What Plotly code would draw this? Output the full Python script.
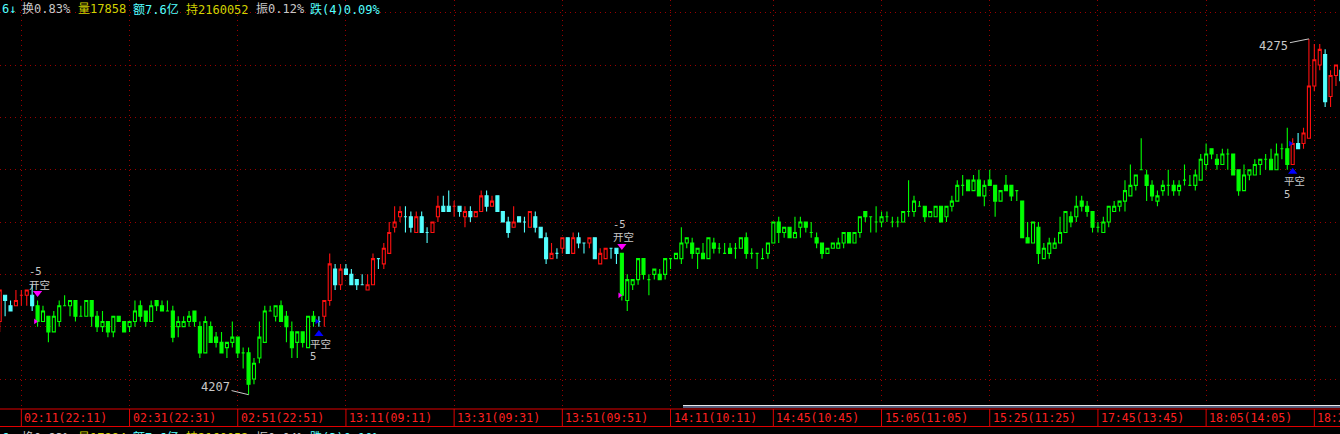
import plotly.graph_objects as go

# ---------------- data ----------------
opens = [4221, 4226, 4224, 4224, 4226, 4226, 4226, 4224, 4221, 4222,
         4219, 4221, 4224, 4224, 4225, 4222, 4222, 4225, 4222, 4220,
         4221, 4219, 4222, 4221, 4220, 4221, 4224, 4223, 4221, 4225,
         4224, 4223, 4223, 4220, 4220, 4221, 4223, 4220, 4215, 4220,
         4218, 4217, 4216, 4217, 4218, 4215, 4215, 4210, 4214, 4217,
         4223, 4222, 4224, 4222, 4219, 4217, 4219, 4216, 4222, 4221,
         4222, 4225, 4231, 4228, 4231, 4230, 4229, 4228, 4227, 4228,
         4233, 4232, 4234, 4239, 4241, 4241, 4241, 4238, 4241, 4238,
         4238, 4241, 4243, 4243, 4243, 4243, 4241, 4242, 4241, 4242,
         4245, 4243, 4245, 4242, 4240, 4239, 4241, 4240, 4239, 4241,
         4239, 4237, 4233, 4234, 4235, 4237, 4234, 4237, 4236, 4236,
         4237, 4232, 4233, 4235, 4235, 4234, 4225, 4228, 4229, 4233,
         4229, 4230, 4230, 4230, 4233, 4233, 4233, 4236, 4236, 4234,
         4234, 4233, 4236, 4235, 4234, 4235, 4235, 4235, 4237, 4234,
         4234, 4233, 4234, 4236, 4240, 4238, 4239, 4237, 4239, 4240,
         4238, 4237, 4236, 4234, 4235, 4235, 4236, 4238, 4236, 4238,
         4242, 4241, 4240, 4240, 4241, 4240, 4240, 4240, 4242, 4242,
         4243, 4243, 4241, 4241, 4243, 4241, 4243, 4244, 4247, 4248,
         4246, 4248, 4245, 4248, 4247, 4244, 4247, 4247, 4246, 4244,
         4237, 4236, 4239, 4233, 4234, 4235, 4236, 4238, 4241, 4241,
         4244, 4243, 4242, 4239, 4238, 4240, 4242, 4243, 4244, 4245,
         4247, 4250, 4249, 4247, 4244, 4246, 4247, 4247, 4246, 4248,
         4247, 4247, 4248, 4251, 4254, 4252, 4251, 4253, 4253, 4250,
         4246, 4249, 4249, 4251, 4252, 4252, 4250, 4254, 4254, 4251,
         4255, 4255, 4256, 4266, 4270, 4272, 4264, 4268, 4269]
highs = [4227, 4226, 4225, 4227, 4227, 4227, 4228, 4225, 4224, 4222,
         4223, 4225, 4226, 4225, 4225, 4224, 4225, 4225, 4223, 4223,
         4221, 4222, 4222, 4221, 4221, 4225, 4225, 4223, 4225, 4225,
         4225, 4225, 4224, 4222, 4222, 4223, 4223, 4221, 4222, 4221,
         4219, 4219, 4217, 4221, 4218, 4216, 4216, 4214, 4221, 4224,
         4224, 4224, 4225, 4223, 4221, 4219, 4219, 4222, 4223, 4222,
         4225, 4234, 4232, 4232, 4232, 4231, 4229, 4230, 4230, 4234,
         4233, 4236, 4240, 4243, 4243, 4243, 4242, 4242, 4242, 4239,
         4240, 4245, 4245, 4246, 4244, 4243, 4243, 4243, 4242, 4246,
         4246, 4245, 4245, 4242, 4241, 4243, 4241, 4241, 4242, 4242,
         4239, 4238, 4236, 4235, 4237, 4237, 4238, 4238, 4236, 4237,
         4237, 4235, 4235, 4235, 4235, 4234, 4230, 4229, 4233, 4233,
         4230, 4231, 4231, 4233, 4233, 4234, 4239, 4237, 4237, 4235,
         4236, 4237, 4237, 4236, 4236, 4236, 4236, 4237, 4238, 4235,
         4234, 4235, 4236, 4240, 4241, 4239, 4239, 4241, 4241, 4240,
         4240, 4238, 4236, 4235, 4236, 4237, 4238, 4238, 4238, 4241,
         4242, 4241, 4243, 4242, 4242, 4241, 4241, 4242, 4248, 4245,
         4244, 4243, 4242, 4243, 4243, 4243, 4245, 4248, 4249, 4248,
         4249, 4250, 4248, 4250, 4247, 4246, 4249, 4247, 4246, 4244,
         4240, 4240, 4240, 4236, 4237, 4237, 4241, 4242, 4242, 4245,
         4245, 4244, 4242, 4240, 4241, 4243, 4244, 4244, 4248, 4251,
         4249, 4256, 4250, 4248, 4246, 4248, 4250, 4248, 4248, 4251,
         4249, 4250, 4253, 4255, 4254, 4253, 4254, 4254, 4253, 4250,
         4251, 4250, 4252, 4252, 4253, 4254, 4255, 4255, 4258, 4256,
         4257, 4258, 4275, 4274, 4274, 4273, 4269, 4270, 4269]
lows = [4219, 4222, 4223, 4224, 4224, 4224, 4223, 4220, 4221, 4217,
        4219, 4220, 4224, 4222, 4221, 4222, 4222, 4220, 4219, 4219,
        4218, 4218, 4221, 4219, 4219, 4220, 4221, 4220, 4221, 4223,
        4223, 4223, 4217, 4218, 4220, 4220, 4220, 4214, 4215, 4217,
        4216, 4215, 4214, 4216, 4214, 4212, 4207, 4209, 4213, 4217,
        4223, 4221, 4221, 4217, 4214, 4214, 4216, 4216, 4220, 4220,
        4220, 4224, 4227, 4227, 4230, 4228, 4227, 4228, 4227, 4228,
        4231, 4231, 4234, 4238, 4240, 4238, 4238, 4238, 4238, 4236,
        4238, 4240, 4242, 4242, 4241, 4241, 4239, 4240, 4241, 4242,
        4242, 4243, 4242, 4240, 4237, 4239, 4240, 4238, 4239, 4238,
        4237, 4232, 4233, 4233, 4234, 4234, 4234, 4235, 4234, 4235,
        4233, 4232, 4233, 4233, 4232, 4225, 4223, 4227, 4228, 4229,
        4226, 4229, 4229, 4229, 4231, 4233, 4232, 4235, 4233, 4231,
        4233, 4233, 4234, 4234, 4234, 4234, 4233, 4235, 4233, 4233,
        4231, 4233, 4233, 4236, 4236, 4237, 4237, 4237, 4237, 4238,
        4237, 4235, 4233, 4234, 4235, 4235, 4235, 4236, 4236, 4237,
        4240, 4238, 4238, 4239, 4240, 4239, 4239, 4240, 4241, 4241,
        4243, 4240, 4241, 4241, 4240, 4240, 4242, 4244, 4245, 4246,
        4246, 4245, 4243, 4247, 4241, 4244, 4246, 4244, 4244, 4237,
        4236, 4236, 4232, 4233, 4233, 4235, 4236, 4238, 4239, 4240,
        4242, 4241, 4238, 4238, 4238, 4239, 4242, 4242, 4242, 4245,
        4246, 4250, 4244, 4244, 4243, 4245, 4245, 4245, 4245, 4247,
        4247, 4246, 4248, 4250, 4252, 4250, 4251, 4250, 4249, 4245,
        4246, 4248, 4249, 4249, 4250, 4250, 4250, 4252, 4250, 4251,
        4254, 4254, 4256, 4265, 4269, 4262, 4262, 4266, 4266]
closes = [4227, 4225, 4223, 4225, 4226, 4227, 4224, 4221, 4223, 4219,
          4222, 4224, 4224, 4225, 4222, 4222, 4225, 4222, 4220, 4221,
          4219, 4222, 4221, 4219, 4221, 4223, 4222, 4221, 4224, 4224,
          4223, 4223, 4218, 4221, 4221, 4222, 4221, 4215, 4221, 4217,
          4217, 4215, 4217, 4218, 4215, 4215, 4209, 4213, 4218, 4223,
          4223, 4224, 4221, 4220, 4216, 4219, 4217, 4222, 4221, 4221,
          4225, 4232, 4228, 4231, 4230, 4228, 4228, 4228, 4228, 4233,
          4233, 4235, 4238, 4240, 4242, 4241, 4239, 4241, 4238, 4238,
          4240, 4243, 4242, 4242, 4243, 4242, 4242, 4241, 4242, 4245,
          4243, 4244, 4242, 4240, 4238, 4240, 4240, 4240, 4242, 4239,
          4237, 4233, 4234, 4234, 4237, 4234, 4237, 4236, 4236, 4237,
          4233, 4234, 4235, 4235, 4234, 4226, 4229, 4229, 4233, 4230,
          4229, 4231, 4229, 4233, 4233, 4234, 4236, 4237, 4234, 4235,
          4233, 4237, 4235, 4235, 4234, 4234, 4235, 4237, 4234, 4234,
          4234, 4233, 4236, 4240, 4238, 4239, 4237, 4238, 4240, 4239,
          4238, 4236, 4234, 4235, 4236, 4236, 4238, 4236, 4238, 4241,
          4241, 4241, 4240, 4241, 4241, 4240, 4240, 4242, 4242, 4244,
          4243, 4241, 4242, 4243, 4240, 4243, 4244, 4247, 4247, 4246,
          4248, 4245, 4247, 4247, 4244, 4246, 4246, 4245, 4246, 4237,
          4236, 4240, 4234, 4235, 4236, 4236, 4238, 4242, 4240, 4243,
          4243, 4242, 4239, 4239, 4240, 4243, 4243, 4244, 4246, 4247,
          4249, 4250, 4247, 4245, 4245, 4247, 4247, 4246, 4247, 4248,
          4247, 4249, 4252, 4253, 4253, 4251, 4253, 4253, 4249, 4246,
          4249, 4250, 4251, 4252, 4252, 4250, 4253, 4254, 4251, 4255,
          4254, 4257, 4266, 4271, 4273, 4263, 4268, 4270, 4267]

label_idx = [4, 24, 44, 64, 84, 104, 124, 143, 163, 183, 203, 223, 243]
time_labels = ["02:11(22:11)", "02:31(22:31)", "02:51(22:51)", "13:11(09:11)",
               "13:31(09:31)", "13:51(09:51)", "14:11(10:11)", "14:45(10:45)",
               "15:05(11:05)", "15:25(11:25)", "17:45(13:45)", "18:05(14:05)",
               "18:25(14:25)"]

signal_idx = [7, 59, 115, 239]
signal_kind = ["开空", "平空", "开空", "平空"]
signal_qty = ["-5", "5", "-5", "5"]

price_grid = [4210, 4220, 4230, 4240, 4250, 4260, 4270, 4280]

header_texts = ["6↓", "换0.83%", "量17858", "额7.6亿", "持2160052", "振0.12%", "跌(4)0.09%"]
footer_texts = ["6↓", "换0.83%", "量17894", "额7.6亿", "持2160052", "振0.04%", "跌(3)0.10%"]

# ---------------- styling / layout ----------------
W, H = 1340, 434
PLOT_H = 406
PX_PER_BAR = 5.41
X0_PX = -0.3
x_lo = (0 - X0_PX) / PX_PER_BAR
x_hi = (W - X0_PX) / PX_PER_BAR
y_lo, y_hi = 4204.84, 4282.43
px_per_pt = PLOT_H / (y_hi - y_lo)

RED = "#ff1010"
CYAN = "#54ffff"
GREEN = "#00ff00"
GRID = "#9a0000"
GRAY = "#c8c8c8"
YELLOW = "#d2d200"
MONO = "DejaVu Sans Mono, Noto Sans CJK SC, monospace"
CJK = "Noto Sans CJK SC, DejaVu Sans Mono"

n = len(opens)
sig_map = dict(zip(signal_idx, signal_kind))
groups = {"flat_up": [], "flat_down": [], "short_up": [], "short_down": []}
short = False
for i in range(n):
    if i in sig_map:
        short = sig_map[i] == "开空"
    o, c = opens[i], closes[i]
    prev = closes[i - 1] if i else c
    up = c > o or (c == o and c > prev)
    groups[("short_" if short else "flat_") + ("up" if up else "down")].append(i)

styles = {
    "flat_up": (RED, "#000000"),
    "flat_down": (CYAN, CYAN),
    "short_up": (GREEN, "#000000"),
    "short_down": (GREEN, GREEN),
}

fig = go.Figure()
for key, idxs in groups.items():
    line_c, fill_c = styles[key]
    st = dict(line=dict(color=line_c, width=1.1), fillcolor=fill_c)
    fig.add_trace(go.Candlestick(
        x=idxs,
        open=[opens[i] for i in idxs], high=[highs[i] for i in idxs],
        low=[lows[i] for i in idxs], close=[closes[i] for i in idxs],
        increasing=st, decreasing=st, whiskerwidth=0, hoverinfo="skip",
        showlegend=False))

# signal triangles and fill marks
for idx, kind in zip(signal_idx, signal_kind):
    is_open = kind == "开空"
    col = "#ff00ff" if is_open else "#0000ff"
    ty = highs[idx] + 7.4 / px_per_pt if is_open else lows[idx] - 7.4 / px_per_pt
    fig.add_trace(go.Scatter(
        x=[idx], y=[ty], mode="markers", hoverinfo="skip", showlegend=False,
        marker=dict(symbol="triangle-down" if is_open else "triangle-up",
                    size=8, color=col, line=dict(width=0))))
    fig.add_trace(go.Scatter(
        x=[idx - 0.4], y=[closes[idx]], mode="markers", hoverinfo="skip",
        showlegend=False,
        marker=dict(symbol="triangle-right", size=5, color=col, line=dict(width=0))))

annotations = []
for idx, kind, qty in zip(signal_idx, signal_kind, signal_qty):
    is_open = kind == "开空"
    base = highs[idx] if is_open else lows[idx]
    s = 1 if is_open else -1
    annotations.append(dict(x=idx, y=base, xref="x", yref="y", text=kind,
                            showarrow=False, xanchor="left", xshift=-10,
                            yshift=s * 16.5, borderpad=0,
                            font=dict(family=CJK, size=10.5, color=GRAY)))
    annotations.append(dict(x=idx, y=base, xref="x", yref="y", text=qty,
                            showarrow=False, xanchor="left", xshift=-10,
                            yshift=s * 29.5, borderpad=0,
                            font=dict(family=MONO, size=10.5, color=GRAY)))

# extreme price labels
i_min = min(range(n), key=lambda i: lows[i])
i_max = max(range(n), key=lambda i: highs[i])
annotations.append(dict(x=i_min, y=lows[i_min], xref="x", yref="y",
                        text=str(lows[i_min]), showarrow=True, arrowhead=0,
                        arrowwidth=1, arrowcolor=GRAY, ax=-33, ay=-8,
                        font=dict(family=MONO, size=12, color=GRAY)))
annotations.append(dict(x=i_max, y=highs[i_max], xref="x", yref="y",
                        text=str(highs[i_max]), showarrow=True, arrowhead=0,
                        arrowwidth=1, arrowcolor=GRAY, ax=-35, ay=7,
                        font=dict(family=MONO, size=12, color=GRAY)))

# time labels in the axis strip
def py2paper(py):
    return (PLOT_H - py) / PLOT_H

for idx, lab in zip(label_idx, time_labels):
    annotations.append(dict(x=idx, y=py2paper(418), xref="x", yref="paper",
                            text=lab, showarrow=False, xanchor="left", xshift=1,
                            yanchor="middle",
                            font=dict(family="DejaVu Sans Mono", size=11.5,
                                      color="#ff2020")))

# header / footer texts
head_x = [0, 20, 76, 131, 184, 254, 308]
head_col = [CYAN, GRAY, YELLOW, CYAN, YELLOW, GRAY, CYAN]
for txt, xp, col in zip(header_texts, head_x, head_col):
    annotations.append(dict(x=xp / W, y=py2paper(9), xref="paper", yref="paper",
                            text=txt, showarrow=False, xanchor="left", yanchor="middle",
                            font=dict(family=MONO, size=12, color=col)))
for txt, xp, col in zip(footer_texts, head_x, head_col):
    annotations.append(dict(x=xp / W, y=py2paper(438), xref="paper", yref="paper",
                            text=txt, showarrow=False, xanchor="left", yanchor="middle",
                            font=dict(family=MONO, size=12, color=col)))

shapes = [
    dict(type="line", xref="paper", yref="paper", x0=0, x1=1,
         y0=py2paper(409), y1=py2paper(409), line=dict(color="#e00000", width=1)),
    dict(type="line", xref="paper", yref="paper", x0=0, x1=1,
         y0=py2paper(426.5), y1=py2paper(426.5), line=dict(color="#e00000", width=1)),
    dict(type="line", xref="paper", yref="paper", x0=683 / W, x1=1,
         y0=py2paper(405.5), y1=py2paper(405.5), line=dict(color="#e8e8e8", width=1)),
    dict(type="line", xref="paper", yref="paper", x0=683 / W, x1=1,
         y0=py2paper(407), y1=py2paper(407), line=dict(color="#7080a8", width=1.5)),
]
for idx in label_idx:
    shapes.append(dict(type="line", xref="x", yref="paper", x0=idx, x1=idx,
                       y0=py2paper(409), y1=py2paper(426.5),
                       line=dict(color="#e00000", width=1)))

fig.update_layout(
    width=W, height=H, margin=dict(l=0, r=0, t=0, b=H - PLOT_H, pad=0),
    paper_bgcolor="#000000", plot_bgcolor="#000000", showlegend=False,
    boxgap=0.2, boxmode="overlay",
    xaxis=dict(range=[x_lo, x_hi], type="linear", showticklabels=False, ticks="",
               tickvals=label_idx, showgrid=True, gridcolor=GRID, gridwidth=1,
               griddash="1px,4px", zeroline=False, showline=False,
               rangeslider=dict(visible=False), fixedrange=True),
    yaxis=dict(range=[y_lo, y_hi], showticklabels=False, ticks="",
               tickvals=price_grid, showgrid=True, gridcolor=GRID, gridwidth=1,
               griddash="1px,4px", zeroline=False, showline=False, fixedrange=True),
    annotations=annotations, shapes=shapes,
)

fig.write_html(
    "out.html",
    config={"displayModeBar": False, "staticPlot": True},
    post_script="document.body.style.margin='0';document.body.style.background='#000';",
)
